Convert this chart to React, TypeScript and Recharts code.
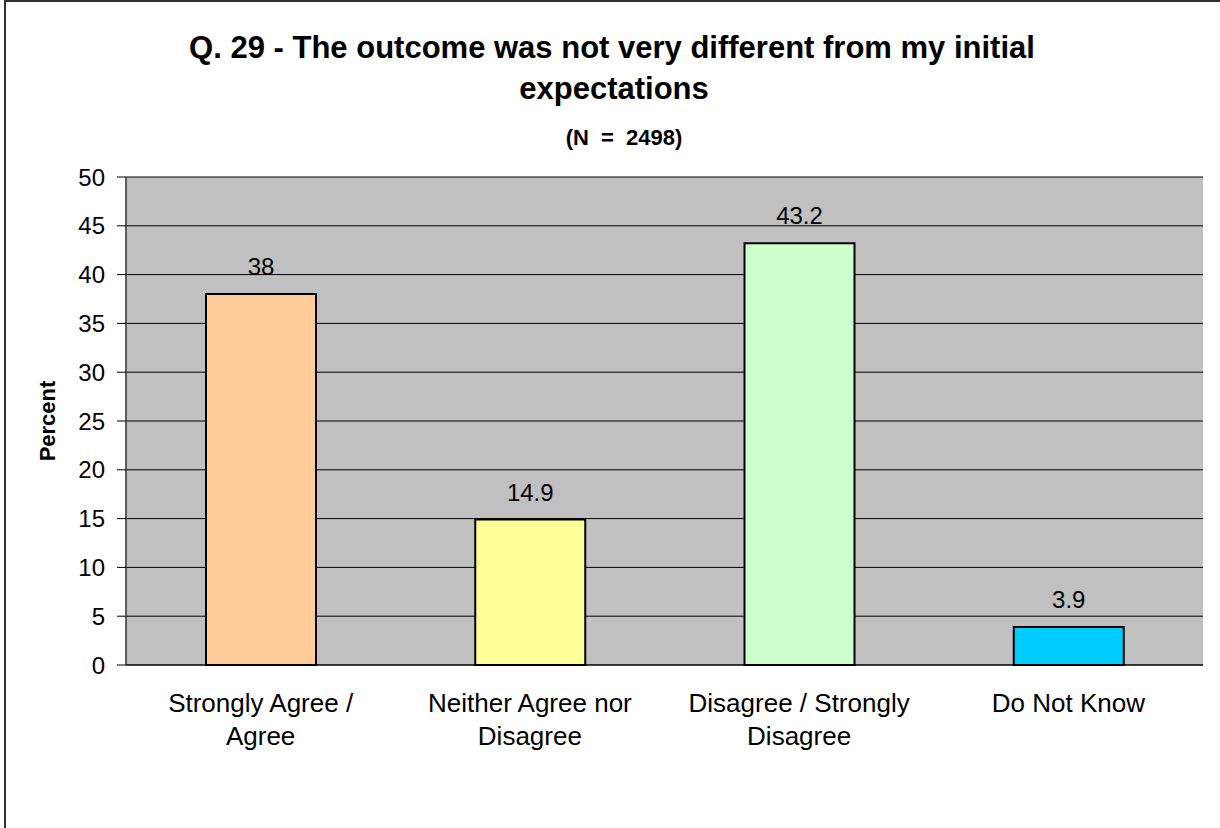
import React from "react";
import { BarChart, Bar, XAxis, YAxis, CartesianGrid, Cell, LabelList } from "recharts";

const categories = [
  "Strongly Agree / Agree",
  "Neither Agree nor Disagree",
  "Disagree / Strongly Disagree",
  "Do Not Know",
];
const categoryLines = [
  ["Strongly Agree /", "Agree"],
  ["Neither Agree nor", "Disagree"],
  ["Disagree / Strongly", "Disagree"],
  ["Do Not Know"],
];
const percents = [38, 14.9, 43.2, 3.9];
const barColors = ["#FFCC99", "#FFFF99", "#CCFFCC", "#00CCFF"];
const yTicks = [0, 5, 10, 15, 20, 25, 30, 35, 40, 45, 50];
const boundaryTicks = [0, 1, 2, 3, 4];

const titleLine1 = "Q. 29 - The outcome was not very different from my initial";
const titleLine2 = "expectations";
const subtitle = "(N = 2498)";
const yAxisTitle = "Percent";

const FONT = "'Liberation Sans', Arial, Helvetica, sans-serif";

const data = categories.map((c, i) => ({ category: c, value: percents[i] }));

function CategoryTick(props: any) {
  const { x, y, payload } = props;
  const idx = categories.indexOf(payload.value);
  const lines = idx >= 0 ? categoryLines[idx] : [String(payload.value)];
  return (
    <text x={x} y={y} textAnchor="middle" fontSize={26} fontFamily={FONT} fill="#000">
      {lines.map((l, i) => (
        <tspan key={i} x={x} dy={i === 0 ? 39 : 33}>
          {l}
        </tspan>
      ))}
    </text>
  );
}

export default function App() {
  return (
    <div style={{ position: "absolute", left: 0, top: 0, width: 1220, height: 828, background: "#fff" }}>
      <BarChart
        width={1220}
        height={828}
        data={data}
        margin={{ top: 177, right: 17, bottom: 55, left: 56 }}
      >
        <CartesianGrid
          xAxisId="cat"
          yAxisId="left"
          horizontal={true}
          vertical={false}
          stroke="#000"
          strokeOpacity={1}
          fill="#C0C0C0"
          fillOpacity={1}
        />
        <XAxis
          xAxisId="bound"
          type="number"
          domain={[0, 4]}
          ticks={boundaryTicks}
          allowDataOverflow={true}
          tick={false}
          tickSize={8}
          tickLine={{ stroke: "#000" }}
          axisLine={{ stroke: "#000" }}
          height={8}
        />
        <XAxis
          xAxisId="cat"
          dataKey="category"
          axisLine={false}
          tickLine={false}
          tickSize={0}
          tickMargin={0}
          height={100}
          interval={0}
          tick={<CategoryTick />}
        />
        <XAxis
          xAxisId="top"
          orientation="top"
          type="number"
          domain={[0, 4]}
          allowDataOverflow={true}
          height={0}
          tick={false}
          tickLine={false}
          axisLine={{ stroke: "#808080", strokeWidth: 2 }}
        />
        <YAxis
          yAxisId="left"
          domain={[0, 50]}
          ticks={yTicks}
          interval={0}
          width={70}
          tickSize={9}
          tickMargin={12}
          tick={{ fontSize: 24, fill: "#000", fontFamily: FONT }}
          tickLine={{ stroke: "#000" }}
          axisLine={{ stroke: "#333", strokeWidth: 1.5 }}
        />
        <YAxis
          yAxisId="right"
          orientation="right"
          domain={[0, 50]}
          width={0}
          tick={false}
          tickLine={false}
          axisLine={{ stroke: "#808080", strokeWidth: 2 }}
        />
        <Bar
          xAxisId="cat"
          yAxisId="left"
          dataKey="value"
          barSize={110}
          stroke="#000"
          strokeWidth={2}
          isAnimationActive={false}
        >
          {data.map((d, i) => (
            <Cell key={d.category} fill={barColors[i]} />
          ))}
          <LabelList
            dataKey="value"
            position="top"
            offset={19}
            fill="#000"
            fontSize={24}
            fontFamily={FONT}
          />
        </Bar>
      </BarChart>
      <svg
        width={1220}
        height={828}
        style={{ position: "absolute", left: 0, top: 0, pointerEvents: "none" }}
      >
        <rect x={5} y={1} width={1400} height={1000} fill="none" stroke="#333" strokeWidth={2} />
        <text x={612} y={58} textAnchor="middle" fontSize={31} fontWeight="bold" fontFamily={FONT} fill="#000">
          {titleLine1}
        </text>
        <text x={614} y={99} textAnchor="middle" fontSize={31} fontWeight="bold" fontFamily={FONT} fill="#000">
          {titleLine2}
        </text>
        <text x={624} y={145} textAnchor="middle" fontSize={22} fontWeight="bold" fontFamily={FONT} fill="#000" wordSpacing={6}>
          {subtitle}
        </text>
        <text
          x={55}
          y={421}
          transform="rotate(-90 55 421)"
          textAnchor="middle"
          fontSize={22}
          fontWeight="bold"
          fontFamily={FONT}
          fill="#000"
        >
          {yAxisTitle}
        </text>
      </svg>
    </div>
  );
}
